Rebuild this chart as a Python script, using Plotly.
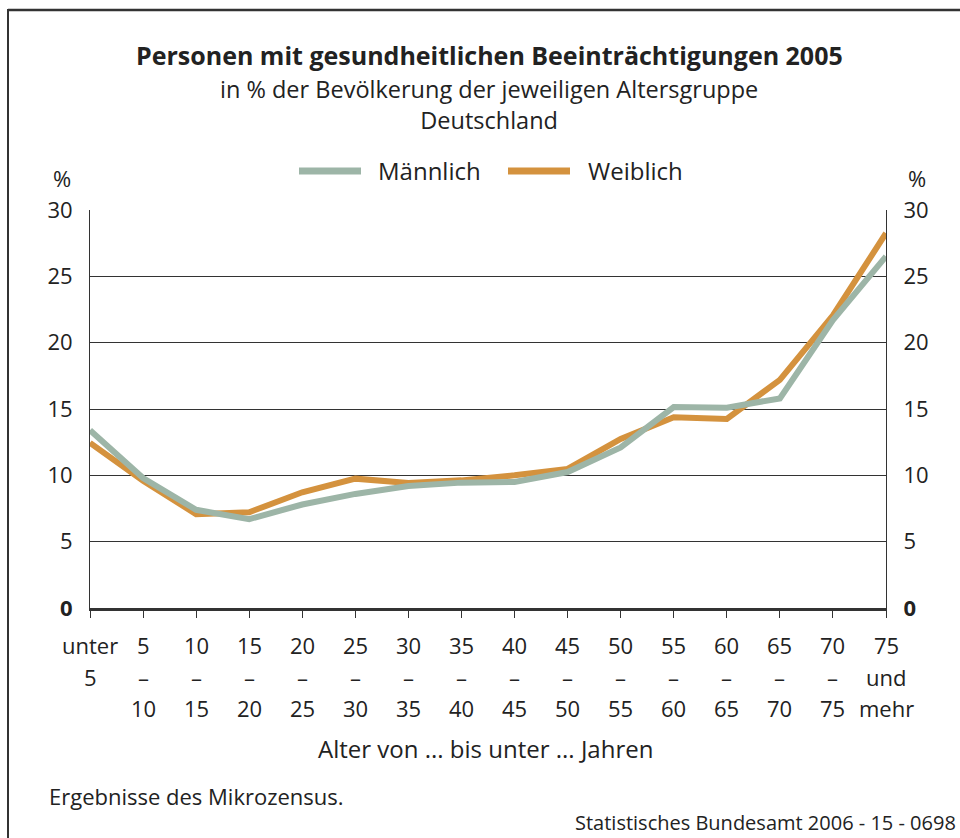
import plotly.graph_objects as go

categories = ["unter 5", "5-10", "10-15", "15-20", "20-25", "25-30", "30-35", "35-40",
              "40-45", "45-50", "50-55", "55-60", "60-65", "65-70", "70-75", "75 und mehr"]
label_row1 = ["unter", "5", "10", "15", "20", "25", "30", "35", "40", "45", "50", "55", "60", "65", "70", "75"]
label_row2 = ["5", "–", "–", "–", "–", "–", "–", "–", "–", "–", "–", "–", "–", "–", "–", "und"]
label_row3 = ["", "10", "15", "20", "25", "30", "35", "40", "45", "50", "55", "60", "65", "70", "75", "mehr"]

maennlich = [13.4, 9.8, 7.4, 6.7, 7.8, 8.6, 9.2, 9.45, 9.5, 10.25, 12.1, 15.15, 15.1, 15.8, 21.7, 26.5]
weiblich = [12.45, 9.6, 7.07, 7.22, 8.72, 9.75, 9.42, 9.62, 10.0, 10.48, 12.75, 14.38, 14.25, 17.2, 22.05, 28.25]

y_ticks = [0, 5, 10, 15, 20, 25, 30]
y_ticktext = ["<b>0</b>", "5", "10", "15", "20", "25", "30"]

C_M = "#9db5a7"
C_W = "#d4923e"
TXT = "#222222"
LINE = "#333333"
FONT = "Open Sans"

fig = go.Figure()
fig.add_trace(go.Scatter(x=categories, y=weiblich, mode="lines", name="Weiblich",
                         line=dict(color=C_W, width=6), showlegend=False))
fig.add_trace(go.Scatter(x=categories, y=maennlich, mode="lines", name="Männlich",
                         line=dict(color=C_M, width=6), showlegend=False))
# invisible trace to activate right axis
fig.add_trace(go.Scatter(x=categories, y=maennlich, yaxis="y2", mode="lines",
                         line=dict(width=0), opacity=0, showlegend=False, hoverinfo="skip"))

fig.update_layout(
    width=960, height=838, autosize=False,
    paper_bgcolor="white", plot_bgcolor="white",
    margin=dict(l=90, r=74, t=210, b=230),
    font=dict(family=FONT, color=TXT),
    xaxis=dict(type="category", range=[0, len(categories) - 1], showgrid=False,
               showline=True, linecolor=LINE, linewidth=2.5,
               ticks="outside", ticklen=7, tickcolor=LINE, tickwidth=1,
               showticklabels=False, zeroline=False, fixedrange=True),
    yaxis=dict(range=[0, 30], tickvals=y_ticks, ticktext=y_ticktext,
               showgrid=True, gridcolor=LINE, gridwidth=1,
               showline=True, linecolor=LINE, linewidth=1, zeroline=False,
               ticks="", ticklabelstandoff=12, tickfont=dict(size=22, color=TXT, family=FONT)),
    yaxis2=dict(range=[0, 30], tickvals=y_ticks, ticktext=y_ticktext, overlaying="y",
                side="right", showgrid=False, showline=True, linecolor=LINE, linewidth=1,
                zeroline=False, ticks="", ticklabelstandoff=12,
                tickfont=dict(size=22, color=TXT, family=FONT)),
)

ann = []
for i, cat in enumerate(categories):
    for txt, ys in ((label_row1[i], -37), (label_row2[i], -69), (label_row3[i], -100)):
        if txt:
            ann.append(dict(x=cat, xref="x", y=0, yref="paper", yshift=ys, text=txt,
                            showarrow=False, xanchor="center", yanchor="middle",
                            font=dict(size=22, color=TXT, family=FONT)))

def txt_ann(text, x, y, size, xanchor="center", yanchor="middle", bold=False):
    return dict(text=f"<b>{text}</b>" if bold else text, x=x, y=y, xref="paper", yref="paper",
                xanchor=xanchor, yanchor=yanchor, showarrow=False,
                font=dict(size=size, color=TXT, family=FONT))

def py(pix):
    # convert pixel y (from top of page) to paper coordinate
    return (838 - 230 - pix) / (838 - 210 - 230)

def px(pix):
    return (pix - 90) / 796

ann += [
    txt_ann("Personen mit gesundheitlichen Beeinträchtigungen 2005", px(489), py(55), 25, bold=True),
    txt_ann("in % der Bevölkerung der jeweiligen Altersgruppe<br>Deutschland", px(489), py(104), 23.5),
    txt_ann("Männlich", px(376), py(170), 24, xanchor="left"),
    txt_ann("Weiblich", px(586), py(170), 24, xanchor="left"),
    txt_ann("%", px(62), py(178), 22),
    txt_ann("%", px(917), py(178), 22),
    txt_ann("Alter von ... bis unter ... Jahren", px(485), py(748), 24),
    txt_ann("Ergebnisse des Mikrozensus.", px(47), py(796), 22, xanchor="left"),
    txt_ann("Statistisches Bundesamt 2006 - 15 - 0698", px(958), py(838), 20,
            xanchor="right", yanchor="bottom"),
]
fig.update_layout(annotations=ann)

shapes = [
    # frame lines (top and left)
    dict(type="line", xref="paper", yref="paper", x0=px(8), x1=px(960),
         y0=py(10), y1=py(10), line=dict(color=LINE, width=2.5)),
    dict(type="line", xref="paper", yref="paper", x0=px(8), x1=px(8),
         y0=py(9), y1=py(838), line=dict(color=LINE, width=2)),
    # legend swatches
    dict(type="line", xref="paper", yref="paper", x0=px(299), x1=px(361),
         y0=py(171), y1=py(171), line=dict(color=C_M, width=7)),
    dict(type="line", xref="paper", yref="paper", x0=px(508), x1=px(570),
         y0=py(171), y1=py(171), line=dict(color=C_W, width=7)),
]
fig.update_layout(shapes=shapes)

fig.write_html("out.html", config={"displayModeBar": False},
               post_script="document.body.style.margin='0';document.body.style.overflow='hidden';")
